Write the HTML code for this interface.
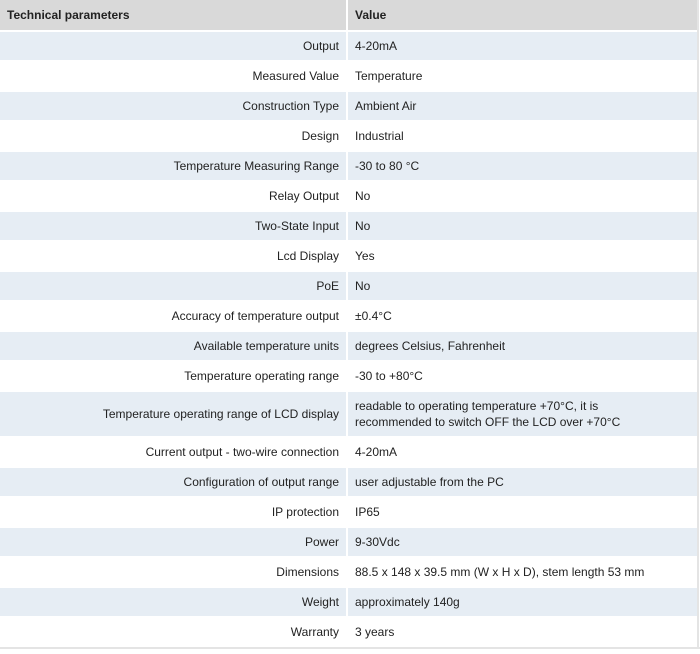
<!DOCTYPE html>
<html><head><meta charset="utf-8"><style>
body{margin:0;width:700px;height:654px;background:#fff;font-family:"Liberation Sans",sans-serif;font-size:12px;color:#222;position:relative;overflow:hidden}
.row{position:absolute;left:0;width:697px;}
.c{position:absolute;top:0;bottom:2px;display:flex;align-items:center;box-sizing:border-box}
.l{left:0;width:346px;justify-content:flex-end;padding-right:7px;text-align:right}
.v{left:348px;width:349px;padding-left:7px;line-height:16px}
.odd .c{background:#e6edf4}
.hd .c{background:#d9d9d9;font-weight:bold;justify-content:flex-start;padding-left:7px}
</style></head><body>
<div id="t"></div>
<div style="position:absolute;left:0;top:647px;width:700px;height:2px;background:#e4e4e4"></div>
<div style="position:absolute;left:697px;top:0;width:2px;height:649px;background:#e4e4e4"></div>
<script>
const labels=["Output","Measured Value","Construction Type","Design","Temperature Measuring Range","Relay Output","Two-State Input","Lcd Display","PoE","Accuracy of temperature output","Available temperature units","Temperature operating range","Temperature operating range of LCD display","Current output - two-wire connection","Configuration of output range","IP protection","Power","Dimensions","Weight","Warranty"];
const values=["4-20mA","Temperature","Ambient Air","Industrial","-30 to 80 °C","No","No","Yes","No","±0.4°C","degrees Celsius, Fahrenheit","-30 to +80°C","readable to operating temperature +70°C, it is<br>recommended to switch OFF the LCD over +70°C","4-20mA","user adjustable from the PC","IP65","9-30Vdc","88.5 x 148 x 39.5 mm (W x H x D), stem length 53 mm","approximately 140g","3 years"];
const t=document.getElementById('t');
let y=0;
function mk(cls,top,h,a,b,name){
 const r=document.createElement('div');
 r.className='row '+cls;r.style.top=top+'px';r.style.height=h+'px';
 
 
 const c1=document.createElement('div');c1.className='c l';c1.innerHTML=a;
 
 
 const c2=document.createElement('div');c2.className='c v';c2.innerHTML=b;
 
 
 r.appendChild(c1);r.appendChild(c2);t.appendChild(r);
}
mk('hd odd',0,32,'Technical parameters','Value','header-row');
y=32;
labels.forEach((l,i)=>{
 const h=i===12?46:30;
 mk(i%2===0?'odd':'even',y,h,l,values[i],'spec-row');
 y+=h;
});
</script>
</body></html>
